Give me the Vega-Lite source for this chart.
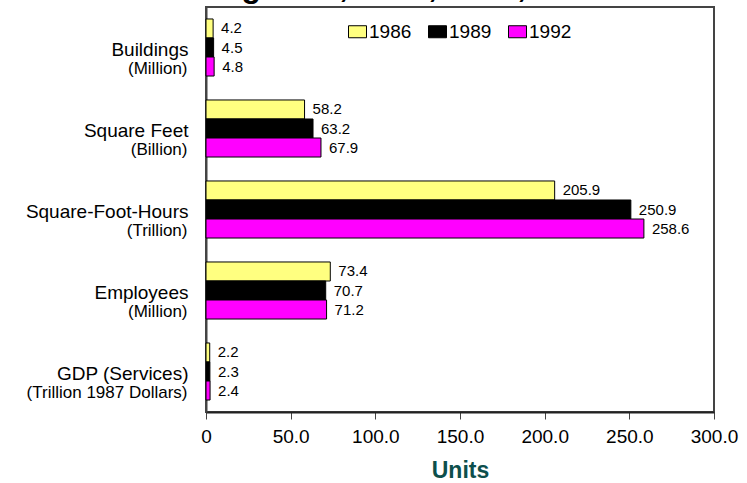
{
  "$schema": "https://vega.github.io/schema/vega-lite/v6.json",
  "autosize": {"type": "none"},
  "width": 508,
  "height": 405,
  "padding": {"left": 206, "top": 7, "right": 33, "bottom": 71},
  "background": "white",
  "config": {
    "font": "Liberation Sans",
    "view": {"stroke": "#444", "strokeWidth": 2},
    "axis": {"grid": false}
  },
  "title": {
    "text": "Building Data, 1986, 1989, 1992",
    "fontSize": 32,
    "fontWeight": "bold",
    "font": "Liberation Sans",
    "anchor": "start",
    "frame": "group",
    "dx": -73,
    "dy": 30,
    "offset": 8,
    "baseline": "alphabetic",
    "color": "black"
  },
  "data": {
    "values": [
      {"cat": "Buildings|(Million)", "year": "1986", "value": 4.2},
      {"cat": "Buildings|(Million)", "year": "1989", "value": 4.5},
      {"cat": "Buildings|(Million)", "year": "1992", "value": 4.8},
      {"cat": "Square Feet|(Billion)", "year": "1986", "value": 58.2},
      {"cat": "Square Feet|(Billion)", "year": "1989", "value": 63.2},
      {"cat": "Square Feet|(Billion)", "year": "1992", "value": 67.9},
      {"cat": "Square-Foot-Hours|(Trillion)", "year": "1986", "value": 205.9},
      {"cat": "Square-Foot-Hours|(Trillion)", "year": "1989", "value": 250.9},
      {"cat": "Square-Foot-Hours|(Trillion)", "year": "1992", "value": 258.6},
      {"cat": "Employees|(Million)", "year": "1986", "value": 73.4},
      {"cat": "Employees|(Million)", "year": "1989", "value": 70.7},
      {"cat": "Employees|(Million)", "year": "1992", "value": 71.2},
      {"cat": "GDP (Services)|(Trillion 1987 Dollars)", "year": "1986", "value": 2.2},
      {"cat": "GDP (Services)|(Trillion 1987 Dollars)", "year": "1989", "value": 2.3},
      {"cat": "GDP (Services)|(Trillion 1987 Dollars)", "year": "1992", "value": 2.4}
    ]
  },
  "encoding": {
    "yOffset": {
      "field": "year",
      "type": "nominal",
      "scale": {"paddingInner": 0, "paddingOuter": 0.63}
    },
    "x": {
      "field": "value",
      "type": "quantitative",
      "scale": {"domain": [0, 300], "nice": false},
      "axis": {
        "values": [0, 50, 100, 150, 200, 250, 300],
        "labelExpr": "datum.value == 0 ? '0' : format(datum.value, '.1f')",
        "labelFontSize": 19,
        "labelColor": "black",
        "labelPadding": 8,
        "labelFlush": false,
        "tickSize": 7,
        "tickColor": "#444",
        "domainColor": "#222",
        "domainWidth": 2,
        "title": "Units",
        "titleFontSize": 23,
        "titleFontWeight": "bold",
        "titleColor": "#0d4f4c",
        "titlePadding": 13
      }
    }
  },
  "layer": [
    {
      "mark": {"type": "bar", "stroke": "black", "strokeWidth": 1},
      "encoding": {
        "y": {
          "field": "cat",
          "type": "nominal",
          "sort": null,
          "scale": {"paddingInner": 0, "paddingOuter": 0},
          "axis": {
            "title": null,
            "orient": "left",
            "ticks": false,
            "domainColor": "#444",
            "domainWidth": 2,
            "labelExpr": "split(datum.label, '|')[0]",
            "labelFontSize": 19,
            "labelPadding": 18,
            "labelBaseline": "alphabetic",
            "labelOffset": 8,
            "labelColor": "black",
            "labelLimit": 300
          }
        },
        "color": {
          "field": "year",
          "type": "nominal",
          "scale": {"domain": ["1986", "1989", "1992"], "range": ["#FFFF80", "#000000", "#FF00FF"]},
          "legend": {
            "title": null,
            "orient": "none",
            "legendX": 142,
            "legendY": 15,
            "direction": "horizontal",
            "padding": 0,
            "symbolType": "M-1,-0.667H1V0.667H-1Z",
            "symbolSize": 324,
            "symbolStrokeColor": "black",
            "symbolStrokeWidth": 1,
            "symbolOpacity": 1,
            "labelFontSize": 19,
            "labelColor": "black",
            "labelOffset": 2,
            "columnPadding": 14
          }
        }
      }
    },
    {
      "mark": {"type": "text", "align": "left", "baseline": "middle", "dx": 8, "fontSize": 15, "color": "black"},
      "encoding": {
        "y": {
          "field": "cat",
          "type": "nominal",
          "sort": null,
          "axis": {
            "title": null,
            "orient": "left",
            "ticks": false,
            "domain": false,
            "labelExpr": "split(datum.label, '|')[1]",
            "labelFontSize": 17,
            "labelPadding": 19,
            "labelBaseline": "alphabetic",
            "labelOffset": 26,
            "labelColor": "black",
            "labelLimit": 300
          }
        },
        "text": {"field": "value", "type": "quantitative", "format": ".1f"}
      }
    }
  ],
  "resolve": {"axis": {"y": "independent"}}
}
